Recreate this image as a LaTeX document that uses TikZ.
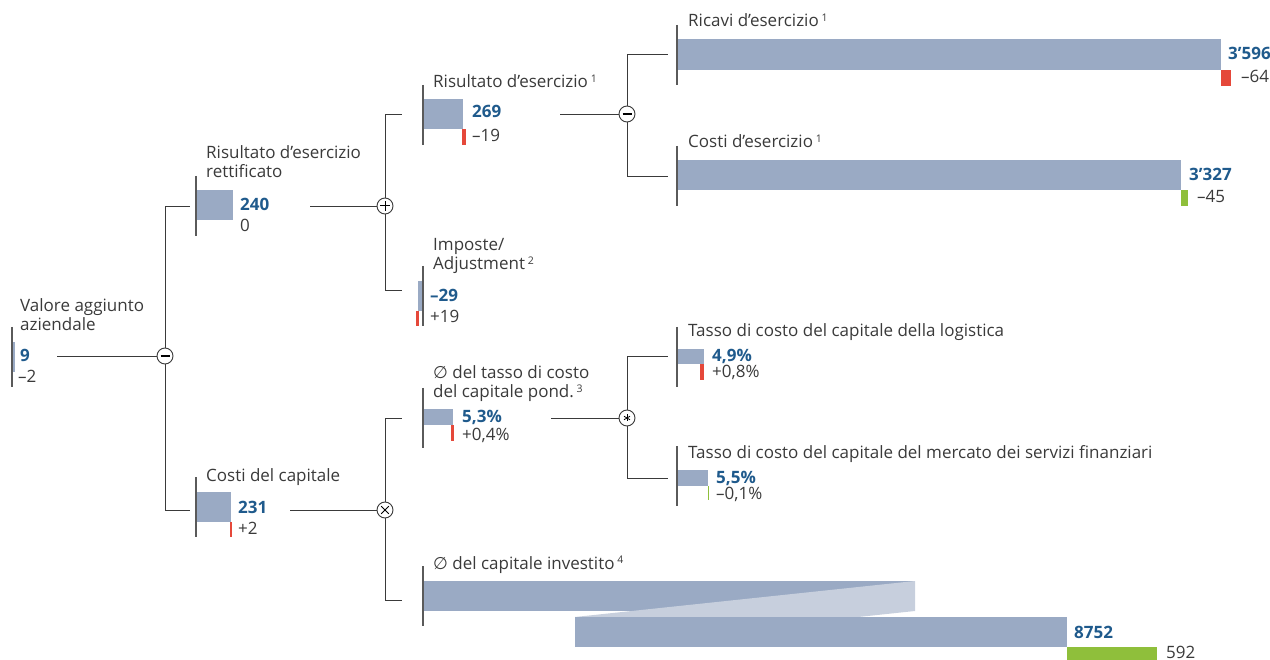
\documentclass[tikz,border=0pt]{standalone}
\usepackage{fontspec}
\setmainfont{Open Sans}
\newfontfamily\symf{DejaVu Sans}
\definecolor{barblue}{HTML}{9AAAC4}
\definecolor{barlight}{HTML}{C7CFDD}
\definecolor{negred}{HTML}{E5483A}
\definecolor{posgreen}{HTML}{8FBF3B}
\definecolor{valblue}{HTML}{1F5A8C}
\definecolor{txt}{HTML}{3A3A3A}
\definecolor{axisgray}{HTML}{5A5A5A}
\definecolor{conngray}{HTML}{3A3A3A}
\newcommand{\sfn}[1]{\,\raisebox{0.6ex}{\fontsize{10.5}{10.5}\selectfont #1}}
\newcommand{\avg}{{\symf ∅}}
\begin{document}
\begin{tikzpicture}[x=1pt,y=-1pt,
  lab/.style={anchor=base west,inner sep=0pt,text=txt,align=left,font=\fontsize{17}{19.5}\selectfont},
  val/.style={anchor=base west,inner sep=0pt,text=valblue,font=\fontsize{17}{19.5}\selectfont\bfseries},
  dlt/.style={anchor=base west,inner sep=0pt,text=txt,font=\fontsize{17}{19.5}\selectfont},
  bluebar/.style={fill=barblue},
  lightbar/.style={fill=barlight},
  negbar/.style={fill=negred},
  posbar/.style={fill=posgreen},
  axisline/.style={draw=axisgray,line width=1.3pt},
  conn/.style={draw=conngray,line width=0.9pt},
  op/.style={circle,draw=conngray,fill=white,line width=0.9pt,minimum size=16pt,inner sep=0pt},
  opsym/.style={draw=black,line width=1pt},
  opsymb/.style={draw=black,line width=2pt}
]
\useasboundingbox (0,0) rectangle (1270,660);

% ---------- Valore aggiunto aziendale
\fill[bluebar] (12,342) rectangle (15,372);
\fill[negbar] (11,372) rectangle (13,387);
\draw[axisline] (12,327) -- (12,387);
\node[lab] (vaL) at (20,331) {Valore aggiunto\\aziendale};
\node[val] (vaV) at (20,362) {9};
\node[dlt] (vaD) at (18,383) {–2};
\coordinate (vaOut) at (57,356);

% operator 1 (minus)
\node[op] (op1) at (165,356) {};
\draw[opsymb] ([xshift=-4.5pt]op1.center) -- ([xshift=4.5pt]op1.center);
\coordinate (rrIn) at (190,206);
\coordinate (ccIn) at (190,510);
\draw[conn] (vaOut) -- (op1);
\draw[conn] (op1) |- (rrIn);
\draw[conn] (op1) |- (ccIn);

% ---------- Risultato d'esercizio rettificato
\fill[bluebar] (196,190) rectangle (233,220);
\draw[axisline] (196,176) -- (196,236);
\node[lab] (rrL) at (206,178) {Risultato d’esercizio\\rettificato};
\node[val] (rrV) at (240,211) {240};
\node[dlt] (rrD) at (240,232) {0};
\coordinate (rrOut) at (310,206);

% operator 2 (plus)
\node[op] (op2) at (385,206) {};
\draw[opsym] ([xshift=-5pt]op2.center) -- ([xshift=5pt]op2.center);
\draw[opsym] ([yshift=-5pt]op2.center) -- ([yshift=5pt]op2.center);
\coordinate (reIn) at (402,114);
\coordinate (imIn) at (402,290);
\draw[conn] (rrOut) -- (op2);
\draw[conn] (op2) |- (reIn);
\draw[conn] (op2) |- (imIn);

% ---------- Risultato d'esercizio
\fill[bluebar] (423,99) rectangle (463,129);
\fill[negbar] (462,129) rectangle (466,145);
\draw[axisline] (423,85) -- (423,145);
\node[lab] (reL) at (433,88) {Risultato d’esercizio\sfn{1}};
\node[val] (reV) at (472,118) {269};
\node[dlt] (reD) at (472,142) {–19};
\coordinate (reOut) at (560,114);

% operator 3 (minus)
\node[op] (op3) at (627,114) {};
\draw[opsymb] ([xshift=-4.5pt]op3.center) -- ([xshift=4.5pt]op3.center);
\coordinate (riIn) at (668,54);
\coordinate (ceIn) at (668,176);
\draw[conn] (reOut) -- (op3);
\draw[conn] (op3) |- (riIn);
\draw[conn] (op3) |- (ceIn);

% ---------- Ricavi d'esercizio
\fill[bluebar] (677,39) rectangle (1221,70);
\fill[negbar] (1221,70) rectangle (1231,86);
\draw[axisline] (677,25) -- (677,85);
\node[lab] (riL) at (688,27) {Ricavi d’esercizio\sfn{1}};
\node[val] (riV) at (1228,60) {3’596};
\node[dlt] (riD) at (1241,83) {–64};

% ---------- Costi d'esercizio
\fill[bluebar] (677,160) rectangle (1181,190);
\fill[posbar] (1181,190) rectangle (1188,206);
\draw[axisline] (677,146) -- (677,206);
\node[lab] (ceL) at (688,148) {Costi d’esercizio\sfn{1}};
\node[val] (ceV) at (1189,181) {3’327};
\node[dlt] (ceD) at (1197,203) {–45};

% ---------- Imposte / Adjustment
\fill[bluebar] (418,281) rectangle (422,311);
\fill[negbar] (416,311) rectangle (419,326);
\draw[axisline] (423,266) -- (423,326);
\node[lab] (imL) at (433,270) {Imposte/\\Adjustment\sfn{2}};
\node[val] (imV) at (430,302) {–29};
\node[dlt] (imD) at (430,323) {+19};

% ---------- Costi del capitale
\fill[bluebar] (196,492) rectangle (231,522);
\fill[negbar] (230,522) rectangle (231.6,537);
\draw[axisline] (196,477) -- (196,537);
\node[lab] (ccL) at (206,481) {Costi del capitale};
\node[val] (ccV) at (238,513) {231};
\node[dlt] (ccD) at (238,534) {+2};
\coordinate (ccOut) at (290,510);

% operator 4 (times)
\node[op] (op4) at (385,510) {};
\draw[opsym] ([shift={(-3.8pt,-3.8pt)}]op4.center) -- ([shift={(3.8pt,3.8pt)}]op4.center);
\draw[opsym] ([shift={(-3.8pt,3.8pt)}]op4.center) -- ([shift={(3.8pt,-3.8pt)}]op4.center);
\coordinate (tcIn) at (402,418);
\coordinate (ciIn) at (402,600);
\draw[conn] (ccOut) -- (op4);
\draw[conn] (op4) |- (tcIn);
\draw[conn] (op4) |- (ciIn);

% ---------- del tasso di costo del capitale pond.
\fill[bluebar] (423,409) rectangle (453,425);
\fill[negbar] (451,425) rectangle (454,441);
\draw[axisline] (423,388) -- (423,448);
\node[lab] (tcL) at (433,398) {\avg\ del tasso di costo\\del capitale pond.\sfn{3}};
\node[val] (tcV) at (462,422) {5,3\%};
\node[dlt] (tcD) at (462,440) {+0,4\%};
\coordinate (tcOut) at (551,418);

% operator 5 (asterisk)
\node[op] (op5) at (627,418) {};
\foreach \a in {90,30,150}{
  \draw[draw=black,line width=0.8pt] ([shift={(\a:3.5pt)}]op5.center) -- ([shift={(\a+180:3.5pt)}]op5.center);
}
\coordinate (tlIn) at (668,356);
\coordinate (tmIn) at (668,478);
\draw[conn] (tcOut) -- (op5);
\draw[conn] (op5) |- (tlIn);
\draw[conn] (op5) |- (tmIn);

% ---------- Tasso logistica
\fill[bluebar] (677,349) rectangle (704,364);
\fill[negbar] (700,364) rectangle (704,380);
\draw[axisline] (677,327) -- (677,387);
\node[lab] (tlL) at (688,337) {Tasso di costo del capitale della logistica};
\node[val] (tlV) at (712,362) {4,9\%};
\node[dlt] (tlD) at (712,378) {+0,8\%};

% ---------- Tasso mercato
\fill[bluebar] (677,470) rectangle (708,486);
\fill[posbar] (708,486) rectangle (709.3,500);
\draw[axisline] (677,446) -- (677,506);
\node[lab] (tmL) at (688,458) {Tasso di costo del capitale del mercato dei servizi finanziari};
\node[val] (tmV) at (716,483) {5,5\%};
\node[dlt] (tmD) at (716,499) {–0,1\%};

% ---------- del capitale investito
\fill[bluebar] (423,581) rectangle (915,611);
\fill[lightbar] (915,581) -- (915,611) -- (575,647) -- (575,617) -- cycle;
\fill[bluebar] (575,617) rectangle (1067,647);
\fill[posbar] (1067,647) rectangle (1157,660);
\draw[axisline] (423,566) -- (423,626);
\node[lab] (ciL) at (433,569) {\avg\ del capitale investito\sfn{4}};
\node[val] (ciV) at (1074,638) {8752};
\node[dlt] (ciD) at (1166,658) {592};
\end{tikzpicture}
\end{document}
